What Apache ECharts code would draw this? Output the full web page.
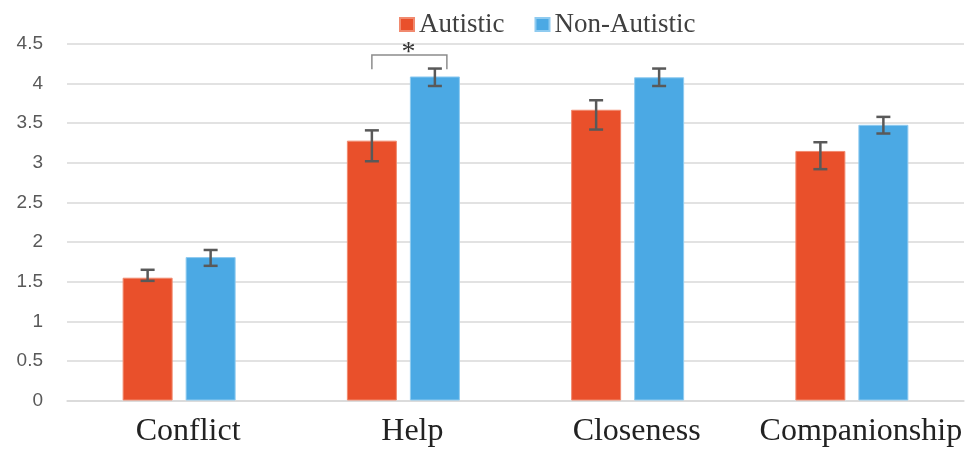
<!DOCTYPE html>
<html>
<head>
<meta charset="utf-8">
<script src="https://cdn.jsdelivr.net/npm/echarts@6/dist/echarts.min.js"></script>
<style>
  html, body { margin: 0; padding: 0; background: #fff; }
  #chart { width: 974px; height: 455px; }
</style>
</head>
<body>
<div id="chart"></div>
<script>
// Friendship quality subscales by group (means with error bars)
const categories = ['Conflict', 'Help', 'Closeness', 'Companionship'];
const groupNames = ['Autistic', 'Non-Autistic'];

const autisticMean = [1.55, 3.28, 3.67, 3.15];
const autisticLow  = [1.51, 3.02, 3.42, 2.92];
const autisticHigh = [1.65, 3.41, 3.79, 3.26];

const nonAutisticMean = [1.81, 4.09, 4.08, 3.48];
const nonAutisticLow  = [1.70, 3.97, 3.97, 3.37];
const nonAutisticHigh = [1.90, 4.19, 4.19, 3.58];

// significance marker: category index, bracket top, bracket foot
const sigCategory = [1];
const sigTop = [4.36];
const sigFoot = [4.18];
const sigText = ['*'];

const yTicks = { min: 0, max: 4.5, interval: 0.5 };

const RED = '#E9502B';
const BLUE = '#4BA9E4';
const BAR_W = 50;
const BAR_GAP = 13;
const HALF_SHIFT = (BAR_W + BAR_GAP) / 2;

function errorRenderer(side) {
  return function (params, api) {
    const ci = api.value(0);
    const c = api.coord([ci, api.value(1)]);
    const hi = api.coord([ci, api.value(2)]);
    const x = c[0] + side * HALF_SHIFT;
    const cap = 7;
    const style = { stroke: '#595959', lineWidth: 2.5 };
    return {
      type: 'group',
      children: [
        { type: 'line', shape: { x1: x, y1: c[1], x2: x, y2: hi[1] }, style },
        { type: 'line', shape: { x1: x - cap, y1: c[1], x2: x + cap, y2: c[1] }, style },
        { type: 'line', shape: { x1: x - cap, y1: hi[1], x2: x + cap, y2: hi[1] }, style }
      ]
    };
  };
}

const errA = categories.map((_, i) => [i, autisticLow[i], autisticHigh[i]]);
const errN = categories.map((_, i) => [i, nonAutisticLow[i], nonAutisticHigh[i]]);
const sigData = sigCategory.map((c, i) => [c, sigTop[i], sigFoot[i], sigText[i]]);

const chart = echarts.init(document.getElementById('chart'), null, { renderer: 'canvas' });
chart.setOption({
  animation: false,
  backgroundColor: '#fff',
  legend: {
    data: groupNames,
    top: 6,
    left: 394,
    itemWidth: 14,
    itemHeight: 13,
    itemGap: 30,
    icon: 'rect',
    textStyle: { fontFamily: 'Liberation Serif', fontSize: 27, color: '#404040' }
  },
  grid: { left: 67, right: 10, top: 44, bottom: 54.5 },
  xAxis: {
    type: 'category',
    data: categories,
    axisLine: { lineStyle: { color: '#d9d9d9', width: 1.5 } },
    axisTick: { show: false },
    axisLabel: {
      interval: 0,
      fontFamily: 'Liberation Serif',
      fontSize: 32,
      color: '#222',
      margin: 15,
      padding: [0, 0, 0, 18]
    }
  },
  yAxis: {
    type: 'value',
    min: yTicks.min,
    max: yTicks.max,
    interval: yTicks.interval,
    axisLine: { show: false },
    axisTick: { show: false },
    splitLine: { lineStyle: { color: '#d9d9d9', width: 1.5 } },
    axisLabel: { fontFamily: 'Liberation Sans', fontSize: 19, color: '#595959', margin: 24 }
  },
  series: [
    {
      name: groupNames[0],
      type: 'bar',
      data: autisticMean,
      barWidth: BAR_W,
      barGap: (BAR_GAP / BAR_W * 100) + '%',
      itemStyle: { color: RED, borderColor: '#F18A6F', borderWidth: 1 }
    },
    {
      name: groupNames[1],
      type: 'bar',
      data: nonAutisticMean,
      barWidth: BAR_W,
      itemStyle: { color: BLUE, borderColor: '#8FCBF0', borderWidth: 1 }
    },
    {
      type: 'custom',
      data: errA,
      renderItem: errorRenderer(-1),
      encode: { x: 0, y: [1, 2] },
      z: 5,
      silent: true
    },
    {
      type: 'custom',
      data: errN,
      renderItem: errorRenderer(1),
      encode: { x: 0, y: [1, 2] },
      z: 5,
      silent: true
    },
    {
      type: 'custom',
      data: sigData,
      encode: { x: 0, y: [1, 2] },
      z: 6,
      silent: true,
      renderItem: function (params, api) {
        const ci = api.value(0);
        const top = api.coord([ci, api.value(1)]);
        const foot = api.coord([ci, api.value(2)]);
        const x1 = top[0] - HALF_SHIFT;
        const x2 = top[0] + HALF_SHIFT + 12;
        const style = { stroke: '#8c8c8c', lineWidth: 1.5, fill: null };
        return {
          type: 'group',
          children: [
            {
              type: 'polyline',
              shape: { points: [[x1, foot[1]], [x1, top[1]], [x2, top[1]], [x2, foot[1]]] },
              style
            },
            {
              type: 'text',
              style: {
                text: sigData[params.dataIndex][3],
                x: (x1 + x2) / 2 - 1,
                y: top[1] - 16,
                align: 'center',
                verticalAlign: 'top',
                font: '28px "Liberation Serif"',
                fill: '#333'
              }
            }
          ]
        };
      }
    }
  ]
});
</script>
</body>
</html>
